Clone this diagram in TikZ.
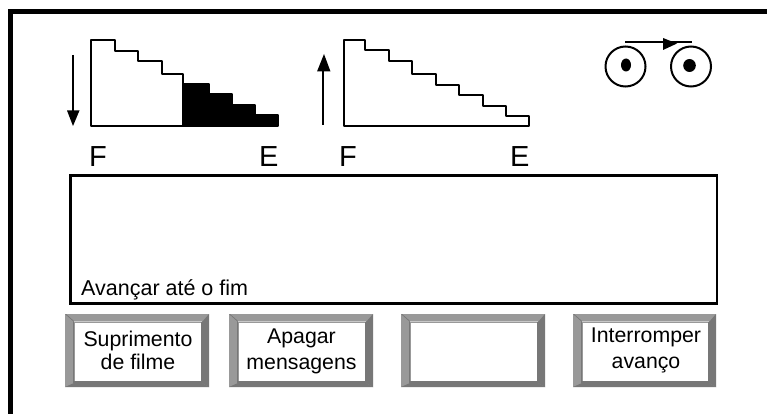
\documentclass[tikz,border=0pt]{standalone}
\usepackage{fontspec}
\setmainfont{Liberation Sans}
\definecolor{bevA}{HTML}{999999}
\definecolor{bevB}{HTML}{777777}
\definecolor{bevC}{HTML}{C8C8C8}
\newcommand{\bevbtn}[5]{%
  \fill[bevA] (#1,#3) rectangle (#2,#4);
  \fill[bevB] (#1,#4) -- (#1+9,#4-4) -- (#2-7,#4-4) -- (#2,#4) -- cycle;
  \fill[bevB] (#2,#3) -- (#2-7,#3+8) -- (#2-7,#4-4) -- (#2,#4) -- cycle;
  \fill[bevB] (#1,#3) -- (#1+9,#3+8) -- (#1+9,#3+7) -- (#1+1,#3) -- cycle;
  \draw[bevB,line width=1.4pt] (#1+8.7,#3+8) -- (#1+8.7,#4-4);
  \draw[bevB,line width=1.4pt] (#1+9,#4-5) -- (#2-7,#4-5);
  \draw[bevB,line width=1.4pt] (#2-7.7,#3+8) -- (#2-7.7,#4-4);
  \draw[bevC,line width=0.8pt] (#1+9,#3+7.5) -- (#2-7,#3+7.5);
  \fill[white] (#1+10,#3+8.5) rectangle (#2-8,#4-6);
}
\tikzset{
  stair/.style={line width=2pt,line join=round,line cap=round},
  arrowline/.style={line width=2pt},
  head/.style={fill=black},
  label/.style={font=\fontsize{29}{29}\selectfont,inner sep=0pt,anchor=base west},
  btntext/.style={font=\fontsize{21.3}{26}\selectfont,inner sep=0pt,anchor=base},
}
\begin{document}
\begin{tikzpicture}[x=1pt,y=-1pt]
\useasboundingbox (0,0) rectangle (767,414);
\fill[white] (0,0) rectangle (767,414);
% frame
\fill[black] (8,9) rectangle (767,14);
\fill[black] (8,9) rectangle (13,414);
% left stair
\fill (183,84) -- (209,84) -- (209,94) -- (232,94) -- (232,105) -- (255,105) -- (255,115) -- (278,115) -- (278,126) -- (183,126) -- cycle;
\draw[stair] (91,126) -- (91,40) -- (115,40) -- (115,51) -- (138,51) -- (138,61) -- (162,61) -- (162,74) -- (183,74) -- (183,84) -- (209,84) -- (209,94) -- (232,94) -- (232,105) -- (255,105) -- (255,115) -- (278,115) -- (278,126) -- cycle;
\draw[stair] (183,84) -- (183,126);
\draw[arrowline] (72.7,55) -- (72.7,112);
\fill[head] (67,110.5) -- (79.5,110.5) -- (73,126) -- cycle;
% right stair
\draw[stair] (344,126) -- (344,40) -- (365,40) -- (365,50.5) -- (389,50.5) -- (389,61) -- (412,61) -- (412,74) -- (436,74) -- (436,85) -- (459,85) -- (459,95) -- (483,95) -- (483,106) -- (506,106) -- (506,116) -- (529,116) -- (529,126) -- cycle;
\draw[arrowline] (323,125) -- (323,70);
\fill[head] (317,71.5) -- (330.5,71.5) -- (324,54) -- cycle;
% reels
\draw[line width=2pt] (625.5,66.5) circle (20);
\draw[line width=2pt] (691,66.5) circle (20);
\fill (626,65) ellipse (5 and 6.5);
\fill (689.5,65.5) ellipse (6.3 and 6.5);
\draw[line width=2pt] (625,42.5) -- (692,42.5);
\fill[head] (663,38) -- (677,43.5) -- (663,50) -- cycle;
% labels
\node[label] (f1) at (89,167) {F};
\node[label] (e1) at (259,167) {E};
\node[label] (f2) at (339,167) {F};
\node[label] (e2) at (510,167) {E};
% display
\node[draw,line width=2.4pt,minimum width=646.5,minimum height=128,inner sep=0pt,anchor=north west] (disp) at (69.3,174.4) {};
\node[inner sep=0pt,anchor=base west,font=\fontsize{21.5}{21.5}\selectfont] (msg) at (81,295) {Avançar até o fim};
% buttons
\bevbtn{65}{209}{314}{387}{}
\bevbtn{229}{373}{314}{387}{}
\bevbtn{401}{545}{314}{387}{}
\bevbtn{573}{716}{314}{387}{}
\node[btntext] (b1a) at (138,346) {Suprimento};
\node[btntext] (b1b) at (138,369) {de filme};
\node[btntext] (b2a) at (301.5,343) {Apagar};
\node[btntext] (b2b) at (301.5,369) {mensagens};
\node[btntext] (b4a) at (646,342) {Interromper};
\node[btntext] (b4b) at (646,368) {avanço};
\end{tikzpicture}
\end{document}
